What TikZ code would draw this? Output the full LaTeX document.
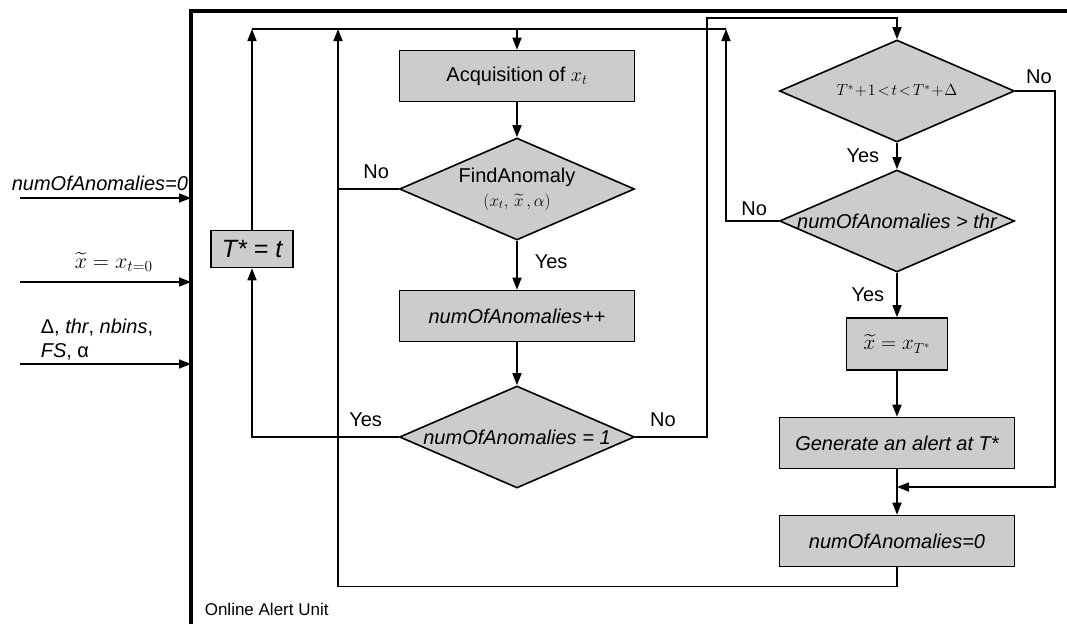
\RequirePackage{fix-cm}
\documentclass[tikz,border=0pt]{standalone}
\usepackage{fontspec}
\setmainfont{Liberation Sans}
\usepackage{amsmath}
\usepackage{tikz}
\usetikzlibrary{arrows.meta, shapes.geometric, positioning}

\begin{document}
\begin{tikzpicture}[x=1pt, y=-1pt,
    line width=1.6pt,
    font=\fontsize{20}{24}\selectfont,
    arr/.style = {-{Triangle[length=12pt, width=9pt]}},
    box/.style = {draw, fill=gray!40, minimum width=235pt, minimum height=51pt, inner sep=0pt},
    decision/.style = {draw, diamond, fill=gray!40, minimum width=235pt, minimum height=102pt, inner sep=0pt},
    answer/.style = {font=\fontsize{20}{24}\selectfont, inner sep=0pt}]
    \useasboundingbox (0,0) rectangle (1067,624);

    % frame of the unit
    \draw[line width=4pt] (191,624) -- (191,11) -- (1067,11);
    \node[anchor=west, font=\fontsize{17}{20}\selectfont, inner sep=0pt] (unit) at (204,609) {Online Alert Unit};

    % inputs
    \coordinate (in1) at (20,198);
    \coordinate (in2) at (20,282);
    \coordinate (in3) at (20,364);
    \draw[arr] (in1) -- (in1 -| 191,0);
    \draw[arr] (in2) -- (in2 -| 191,0);
    \draw[arr] (in3) -- (in3 -| 191,0);
    \node[anchor=base west, inner sep=0pt] (lab1) at (11,190) {\itshape numOfAnomalies=0};
    \node[anchor=base west, inner sep=0pt, font=\fontsize{22}{24}\selectfont] (lab2) at (74,268) {$\widetilde{x}=x_{t=0}$};
    \node[anchor=base west, inner sep=0pt, align=left] (lab3) at (40,357)
      {Δ, \textit{thr}, \textit{nbins},\\ \textit{FS}, α};

    % helper points
    \coordinate (bus) at (338,29);
    \coordinate (busR) at (726,29);
    \coordinate (top2) at (707,18);
    \coordinate (join) at (897,487);

    % middle column
    \node[box] (acq) at (517,76) {Acquisition of $x_t$};
    \node[decision, label={[align=center, inner sep=0pt]center:FindAnomaly\\{\fontsize{17}{18}\selectfont$(x_t,\,\widetilde{x}\,,\alpha)$}}] (find) at (517,189) {};
    \node[box] (inc) at (517,316) {\itshape numOfAnomalies++};
    \node[decision, label={center:\itshape numOfAnomalies = 1}] (one) at (517,437) {};
    \node[box, minimum width=82pt, minimum height=37pt, font=\fontsize{25}{28}\selectfont] (tstar) at (252,249) {\itshape T* = t};

    % right column
    \node[decision, label={[font=\fontsize{16}{18}\selectfont]center:$T^*\!+\!1\!<\!t\!<\!T^*\!+\!\Delta$}] (range) at (897,91) {};
    \node[decision, label={center:\itshape numOfAnomalies > thr}] (thr) at (897,221) {};
    \node[box, minimum width=101pt, minimum height=52pt, font=\fontsize{21}{24}\selectfont] (reset) at (897,344) {$\widetilde{x}=x_{T^*}$};
    \node[box] (alert) at (897,443) {\itshape Generate an alert at T*};
    \node[box] (zero) at (897,541) {\itshape numOfAnomalies=0};

    % connectors
    \draw[arr] (acq) -- (find);
    \draw[arr] (find) -- node[answer, right=17pt, pos=0.42] {Yes} (inc);
    \draw[arr] (inc) -- (one);
    \draw[arr] (one.west) node[answer, above left=10pt and 16pt] {Yes} -| (tstar.south);
    \draw[arr] (tstar.north) -- (tstar.north |- bus);
    \draw (tstar.north |- bus) -- (busR);
    \draw[arr] (acq.north |- bus) -- (acq.north);
    \draw (find.west) node[answer, above left=10pt and 9pt] {No} -- (find.west -| bus);
    \draw[arr] (zero.south) -- ++(0,19) -| (bus);
    \draw[arr] (one.east) node[answer, above right=10pt and 14pt] {No} -| (top2) -| (range.north);
    \draw[arr] (range) -- node[answer, left=17pt] {Yes} (thr);
    \draw[arr] (thr.west) node[answer, above left=5pt and 11pt] {No} -| (busR);
    \draw[arr] (thr) -- node[answer, left=12pt] {Yes} (reset);
    \draw[arr] (reset) -- (alert);
    \draw[arr] (alert) -- (zero);
    \draw[arr] (range.east) node[answer, above right=7pt and 10pt] {No} -| (1055,487) -- (join);
\end{tikzpicture}
\end{document}
